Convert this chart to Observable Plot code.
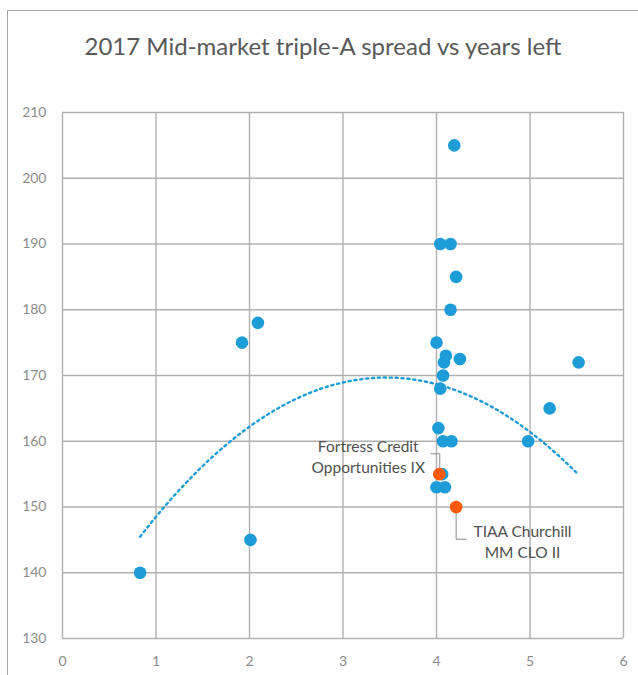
<!DOCTYPE html>
<html><head><meta charset="utf-8">
<script src="https://cdn.jsdelivr.net/npm/d3@7"></script>
<script src="https://cdn.jsdelivr.net/npm/@observablehq/plot@0.6"></script>
<style>
body{margin:0;background:#fff;}
#wrap{position:relative;width:638px;height:675px;overflow:hidden;font-family:Lato,sans-serif;background:#fff;}
#frame{position:absolute;left:7px;top:10px;width:700px;height:700px;border:1px solid #a6a6a6;}
#title{position:absolute;left:0;width:646px;top:30px;text-align:center;font-size:24px;color:#595959;line-height:32px;}
#chart{position:absolute;left:0;top:0;}
</style></head><body>
<div id="wrap"><div id="frame"></div><div id="chart"></div><div id="title">2017 Mid-market triple-A spread vs years left</div></div>
<script>
// Blue deals: years left vs triple-A spread (bps)
const yearsLeft = [0.83, 1.92, 2.09, 2.01, 4.19, 4.04, 4.15, 4.21, 4.15, 4.00, 4.10, 4.08, 4.25, 4.07, 4.04, 4.02, 4.07, 4.16, 4.06, 4.00, 4.09, 5.21, 5.52, 4.98];
const spreadBps = [140, 175, 178, 145, 205, 190, 190, 185, 180, 175, 173, 172, 172.5, 170, 168, 162, 160, 160, 155, 153, 153, 165, 172, 160];
// Highlighted deals
const highlightNames = ["Fortress Credit\nOpportunities IX", "TIAA Churchill\nMM CLO II"];
const highlightYears = [4.03, 4.21];
const highlightSpread = [155, 150];
// Polynomial (order 2) trendline: c0 + c1*x + c2*x^2
const trendCoef = [127.82, 24.19, -3.494];
// Tick labels
const xTicks = [0, 1, 2, 3, 4, 5, 6];
const yTicks = [130, 140, 150, 160, 170, 180, 190, 200, 210];

const blue = yearsLeft.map((x, i) => ({x, y: spreadBps[i]}));
const orange = highlightYears.map((x, i) => ({x, y: highlightSpread[i], name: highlightNames[i]}));
const all = blue.concat(orange);

const xmin = d3.min(all, d => d.x), xmax = d3.max(all, d => d.x);
const trend = d3.range(0, 121).map(i => {
  const x = xmin + (xmax - xmin) * i / 120;
  return {x, y: trendCoef[0] + trendCoef[1]*x + trendCoef[2]*x*x};
});

// Annotation label placements (data units)
const labels = [
  {text: highlightNames[0], x: 3.27, y: 157.8},
  {text: highlightNames[1], x: 4.92, y: 144.8}
];
const leaders = [
  [{x: 3.94, y: 158.1}, {x: 4.035, y: 158.1}, {x: 4.035, y: 155}],
  [{x: 4.21, y: 150}, {x: 4.21, y: 145.1}, {x: 4.32, y: 145.1}]
];

const chart = Plot.plot({
  width: 638,
  height: 675,
  marginTop: 112,
  marginBottom: 37,
  marginLeft: 62,
  marginRight: 15,
  style: {fontFamily: "Lato, sans-serif", background: "transparent"},
  x: {domain: [0, 6]},
  y: {domain: [130, 210]},
  marks: [
    Plot.ruleX(xTicks, {stroke: "#b0b0b0", strokeWidth: 1.4}),
    Plot.ruleY(yTicks, {stroke: "#b0b0b0", strokeWidth: 1.4}),
    Plot.axisX(xTicks, {tickSize: 0, tickPadding: 18, fontSize: 14, fill: "#8c8c8c", label: null}),
    Plot.axisY(yTicks, {tickSize: 0, tickPadding: 16, fontSize: 14, fill: "#8c8c8c", label: null}),
    Plot.line(trend, {x: "x", y: "y", stroke: "#1E9CD7", strokeWidth: 2.4, strokeDasharray: "2.2,3.7"}),
    ...leaders.map(l => Plot.line(l, {x: "x", y: "y", stroke: "#8c8c8c", strokeWidth: 1})),
    Plot.dot(blue, {x: "x", y: "y", r: 6.3, fill: "#1E9CD7", stroke: null}),
    Plot.dot(orange, {x: "x", y: "y", r: 6.3, fill: "#FF5A0A", stroke: null}),
    Plot.text(labels, {x: "x", y: "y", text: "text", textAnchor: "middle", lineAnchor: "middle", lineHeight: 1.35, fontSize: 15.5, fill: "#505050"})
  ]
});
document.getElementById("chart").appendChild(chart);
</script>
</body></html>
